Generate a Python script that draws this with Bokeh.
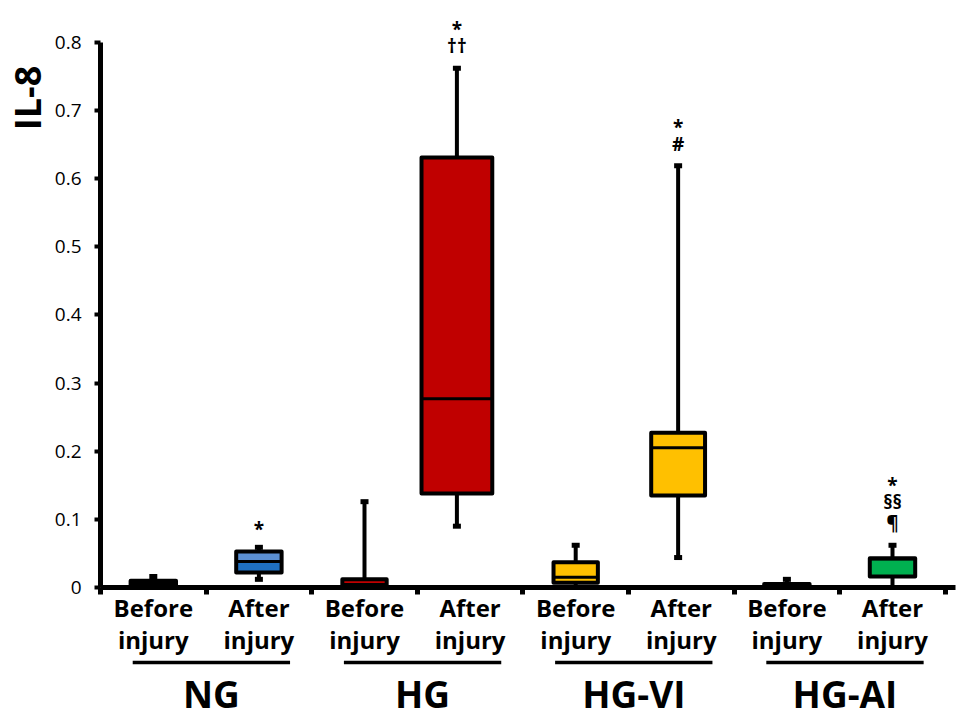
import math
from bokeh.plotting import figure
from bokeh.models import Range1d, FixedTicker, ColumnDataSource
from bokeh.core.properties import value
from bokeh.embed import file_html
from bokeh.resources import INLINE

# ---------------- data ----------------
groups = ["NG", "HG", "HG-VI", "HG-AI"]
phase_labels = ["Before injury", "After injury"]
whisker_low = [0.000, 0.012, 0.000, 0.090, 0.000, 0.044, 0.000, 0.000]
q1 = [0.001, 0.022, 0.002, 0.138, 0.007, 0.135, 0.000, 0.016]
median = [0.005, 0.038, 0.009, 0.277, 0.015, 0.205, 0.002, 0.042]
q3 = [0.010, 0.053, 0.012, 0.631, 0.037, 0.227, 0.005, 0.043]
whisker_high = [0.016, 0.059, 0.126, 0.762, 0.062, 0.619, 0.012, 0.062]
marks = [[], ["*"], [], ["*", "\u2020\u2020"], [], ["*", "#"], [], ["*", "\u00a7\u00a7", "\u00b6"]]
y_ticks = [0, 0.1, 0.2, 0.3, 0.4, 0.5, 0.6, 0.7, 0.8]
y_tick_labels = ["0", "0.1", "0.2", "0.3", "0.4", "0.5", "0.6", "0.7", "0.8"]
y_title = "IL-8"

# ---------------- styles ----------------
lower_colors = ["#000000", "#1f6fc0", "#000000", "#c00000", "#ffc000", "#ffc000", "#000000", "#00b050"]
upper_colors = ["#000000", "#5b8fd2", "#000000", "#c00000", "#ffc000", "#ffc000", "#000000", "#00b050"]
median_colors = ["#000000", "#000000", "#c00000", "#000000", "#000000", "#000000", "#000000", "#000000"]
box_widths = [0.43, 0.43, 0.42, 0.67, 0.42, 0.51, 0.43, 0.43]
x_nudge = [0.0, 0.0, 0.0, -0.125, 0.0, -0.03, 0.0, 0.0]
FONT = "Open Sans"

n = len(q1)
xs = [i + 0.5 + x_nudge[i] for i in range(n)]

p = figure(width=960, height=720, output_backend="svg", toolbar_location=None,
           x_range=Range1d(-0.947, 8.144), y_range=Range1d(-0.1952, 0.8616),
           min_border=0)
p.outline_line_color = None
p.xgrid.grid_line_color = None
p.ygrid.grid_line_color = None
p.background_fill_color = "white"
p.border_fill_color = "white"

# y axis (placed at x = 0 inside the frame)
p.yaxis.fixed_location = 0
p.yaxis.ticker = FixedTicker(ticks=y_ticks)
p.yaxis.major_label_overrides = {t: l for t, l in zip(y_ticks, y_tick_labels)}
p.yaxis.bounds = (0, 0.8)
p.yaxis.axis_line_width = 5
p.yaxis.axis_line_color = "black"
p.yaxis.major_tick_line_width = 4
p.yaxis.major_tick_out = 6
p.yaxis.major_tick_in = 0
p.yaxis.minor_tick_line_color = None
p.yaxis.major_label_text_font = FONT
p.yaxis.major_label_text_font_size = "19px"
p.yaxis.major_label_text_color = "black"
p.yaxis.major_label_standoff = 13

# x axis (placed at y = 0 inside the frame), ticks at category boundaries
x_ticks = list(range(n + 1))
p.xaxis.fixed_location = 0
p.xaxis.ticker = FixedTicker(ticks=x_ticks)
p.xaxis.major_label_overrides = {t: "" for t in x_ticks}
p.xaxis.bounds = (0, 8.097)
p.xaxis.axis_line_width = 5
p.xaxis.axis_line_color = "black"
p.xaxis.major_tick_line_width = 5
p.xaxis.major_tick_out = 7
p.xaxis.major_tick_in = 0
p.xaxis.minor_tick_line_color = None

# whiskers
p.segment(x0=xs, x1=xs, y0=whisker_low, y1=whisker_high, line_color="black", line_width=4)
p.rect(x=xs + xs, y=whisker_low + whisker_high, width=8, height=5,
       width_units="screen", height_units="screen", fill_color="black", line_color=None)

# boxes (two halves) + median + outline
p.vbar(x=xs, width=box_widths, bottom=q1, top=median, fill_color=lower_colors, line_color=None)
p.vbar(x=xs, width=box_widths, bottom=median, top=q3, fill_color=upper_colors, line_color=None)
mx0 = [x - w / 2 for x, w in zip(xs, box_widths)]
mx1 = [x + w / 2 for x, w in zip(xs, box_widths)]
p.segment(x0=mx0, x1=mx1, y0=median, y1=median, line_color=median_colors, line_width=3)
p.vbar(x=xs, width=box_widths, bottom=q1, top=q3, fill_color=None,
       line_color="black", line_width=4, line_join="round")

# significance marks above whiskers
mx, my, mt, mo = [], [], [], []
for i, ms in enumerate(marks):
    for k, t in enumerate(reversed(ms)):
        mx.append(xs[i])
        my.append(whisker_high[i])
        mt.append(t)
        mo.append(-(22 + 21 * k) + (4 if t == "*" else 0))
src = ColumnDataSource(dict(x=mx, y=my, text=mt, yo=mo))
p.text(x="x", y="y", text="text", y_offset="yo", source=src,
       text_font=value(FONT), text_font_style="bold", text_font_size="19px",
       text_align="center", text_baseline="middle", text_color="black")

# category labels below the axis
cx, cy, ct = [], [], []
for i in range(n):
    words = phase_labels[i % 2].split(" ")
    for j, w in enumerate(words):
        cx.append(i + 0.5)
        cy.append([-0.029, -0.077][j])
        ct.append(w)
p.text(x=cx, y=cy, text=ct, text_font=value(FONT), text_font_style="bold",
       text_font_size="24px", text_align="center", text_baseline="middle", text_color="black")

# group underlines and names
gc = [2 * g + 1.05 for g in range(len(groups))]
p.segment(x0=[c - 0.745 for c in gc], x1=[c + 0.745 for c in gc],
          y0=[-0.110] * len(gc), y1=[-0.110] * len(gc), line_width=3.5, line_color="black")
p.text(x=gc, y=[-0.156] * len(gc), text=groups, text_font=value(FONT), text_font_style="bold",
       text_font_size="37px", text_align="center", text_baseline="middle", text_color="black")

# y title
p.text(x=[-0.69], y=[0.7185], text=[y_title], angle=math.pi / 2,
       text_font=value(FONT), text_font_style="bold", text_font_size="36px",
       text_align="center", text_baseline="middle", text_color="black")

open("out.html", "w").write(file_html(p, INLINE))
